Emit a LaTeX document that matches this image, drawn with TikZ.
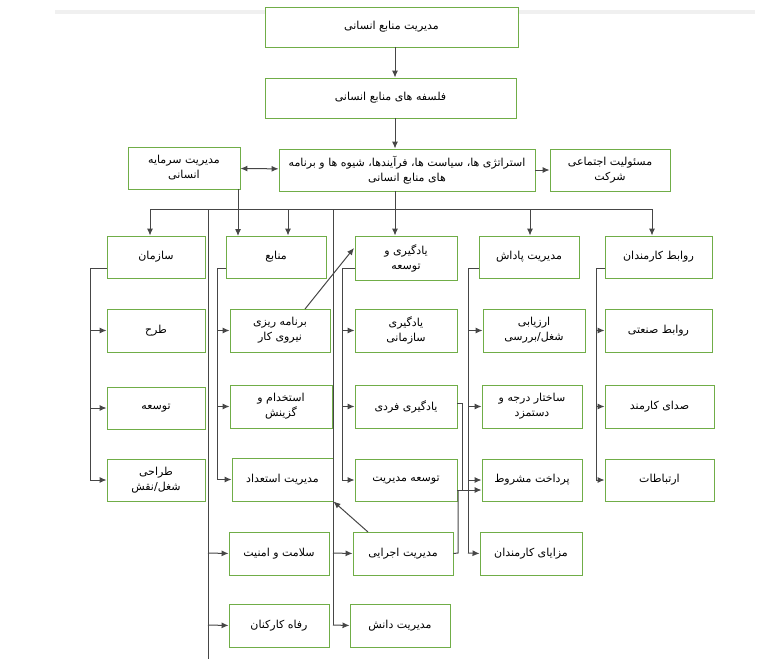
\documentclass[tikz,border=0pt]{standalone}
\usepackage{fontspec}
\setmainfont[Script=Arabic]{DejaVu Sans}
\TeXXeTstate=1
\usetikzlibrary{arrows.meta}
\newcommand\R[1]{\beginR #1\endR}
\definecolor{bgreen}{RGB}{112,173,71}
\definecolor{ln}{RGB}{70,70,70}
\tikzset{
 box/.style={draw=bgreen,line width=0.9pt,fill=white,align=center,inner sep=1pt,font=\fontsize{11}{15}\selectfont},
 con/.style={draw=ln,line width=1pt},
 arr/.style={con,-{Latex[length=7pt,width=6pt]}},
 darr/.style={con,{Latex[length=7pt,width=6pt]}-{Latex[length=7pt,width=6pt]}}
}
\newcommand\B[6]{\pgfmathsetmacro\cx{(#2+#4)/2}\pgfmathsetmacro\cy{(#3+#5)/2}\pgfmathsetmacro\ww{#4-#2}\pgfmathsetmacro\hh{#5-#3}\node[box,minimum width=\ww pt,minimum height=\hh pt] (#1) at (\cx,\cy) {#6};}
\begin{document}
\begin{tikzpicture}[x=1pt,y=-1pt]
\useasboundingbox (0,0) rectangle (768,659);
\fill[gray!12] (55,10) rectangle (755,14);
% top
\B{hrm}{265}{7}{518}{47}{\R{مدیریت منابع انسانی}}
\B{phil}{265}{78}{516}{118}{\R{فلسفه های منابع انسانی}}
\B{str}{279}{149}{535}{191}{\R{استراتژی ها، سیاست ها، فرآیندها، شیوه ها و برنامه}\\\R{های منابع انسانی}}
\B{cap}{128}{147}{240}{189}{\R{مدیریت سرمایه}\\\R{انسانی}}
\B{csr}{550}{149}{670}{191}{\R{مسئولیت اجتماعی}\\\R{شرکت}}
% headers
\B{org}{107}{236}{205}{278}{\R{سازمان}}
\B{res}{226}{236}{326}{278}{\R{منابع}}
\B{lrn}{355}{236}{457}{280}{\R{یادگیری و}\\\R{توسعه}}
\B{rew}{479}{236}{579}{278}{\R{مدیریت پاداش}}
\B{rel}{605}{236}{712}{278}{\R{روابط کارمندان}}
% col1
\B{o1}{107}{309}{205}{352}{\R{طرح}}
\B{o2}{107}{387}{205}{429}{\R{توسعه}}
\B{o3}{107}{459}{205}{501}{\R{طراحی}\\\R{شغل/نقش}}
% col2
\B{r1}{230}{309}{330}{352}{\R{برنامه ریزی}\\\R{نیروی کار}}
\B{r2}{230}{385}{332}{428}{\R{استخدام و}\\\R{گزینش}}
\B{r3}{232}{458}{333}{501}{\R{مدیریت استعداد}}
\B{r4}{229}{532}{329}{575}{\R{سلامت و امنیت}}
\B{r5}{229}{604}{329}{647}{\R{رفاه کارکنان}}
% col3
\B{l1}{355}{309}{457}{352}{\R{یادگیری}\\\R{سازمانی}}
\B{l2}{355}{385}{457}{428}{\R{یادگیری فردی}}
\B{l3}{355}{459}{457}{501}{\R{توسعه مدیریت}}
\B{l4}{353}{532}{453}{575}{\R{مدیریت اجرایی}}
\B{l5}{350}{604}{450}{647}{\R{مدیریت دانش}}
% col4
\B{w1}{483}{309}{585}{352}{\R{ارزیابی}\\\R{شغل/بررسی}}
\B{w2}{482}{385}{582}{428}{\R{ساختار درجه و}\\\R{دستمزد}}
\B{w3}{482}{459}{582}{501}{\R{پرداخت مشروط}}
\B{w4}{480}{532}{582}{575}{\R{مزایای کارمندان}}
% col5
\B{e1}{605}{309}{712}{352}{\R{روابط صنعتی}}
\B{e2}{605}{385}{714}{428}{\R{صدای کارمند}}
\B{e3}{605}{459}{714}{501}{\R{ارتباطات}}
% top connectors
\draw[arr] (hrm.south -| 395,0) -- (phil.north -| 395,0);
\draw[arr] (phil.south -| 395,0) -- (str.north -| 395,0);
\draw[darr] (cap) -- (str);
\draw[arr] (str) -- (csr);
\coordinate (bus) at (395,209);
\draw[con] (str.south -| 395,0) -- (bus);
\draw[con] (150,209) -- (652,209);
\draw[arr] (150,209) -- (org.north -| 150,0);
\draw[arr] (cap.south -| 238,0) -- (238,236);
\draw[arr] (288,209) -- (res.north -| 288,0);
\draw[arr] (bus) -- (lrn.north -| 395,0);
\draw[arr] (530,209) -- (rew.north -| 530,0);
\draw[arr] (652,209) -- (rel.north -| 652,0);
% long verticals
\draw[con] (208,209) -- (208,659);
\draw[arr] (208,553) -- (r4.west);
\draw[arr] (208,625) -- (r5.west);
\draw[con] (333,209) -- (333,625);
% feeders
\foreach \h/\a/\b/\c/\x in {org/o1/o2/o3/90, res/r1/r2/r3/217, lrn/l1/l2/l3/342, rel/e1/e2/e3/596}{
 \draw[con] (\h.west |- 0,268) -- (\x,268) -- (\x,480);
 \draw[arr] (\x,0 |- \a.west) -- (\a.west);
 \draw[arr] (\x,0 |- \b.west) -- (\b.west);
 \draw[arr] (\x,0 |- \c.west) -- (\c.west);
}
\draw[con] (rew.west |- 0,268) -- (468,268) -- (468,553);
\draw[arr] (468,0 |- w1.west) -- (w1.west);
\draw[arr] (468,0 |- w2.west) -- (w2.west);
\draw[arr] (468,480) -- (w3.west |- 0,480);
\draw[arr] (468,553) -- (w4.west);
\draw[arr] (333,553) -- (l4.west);
\draw[arr] (333,625) -- (l5.west);
\draw[arr] (l3.east |- 0,490) -- (w3.west |- 0,490);
\draw[con] (l2.east |- 0,403) -- (462,403) -- (462,490);
\draw[con] (l4.east) -- (458,553) -- (458,490);
% diagonals
\draw[arr] (305,309) -- (354,248);
\draw[arr] (368,532) -- (r3.south east);
\end{tikzpicture}
\end{document}
